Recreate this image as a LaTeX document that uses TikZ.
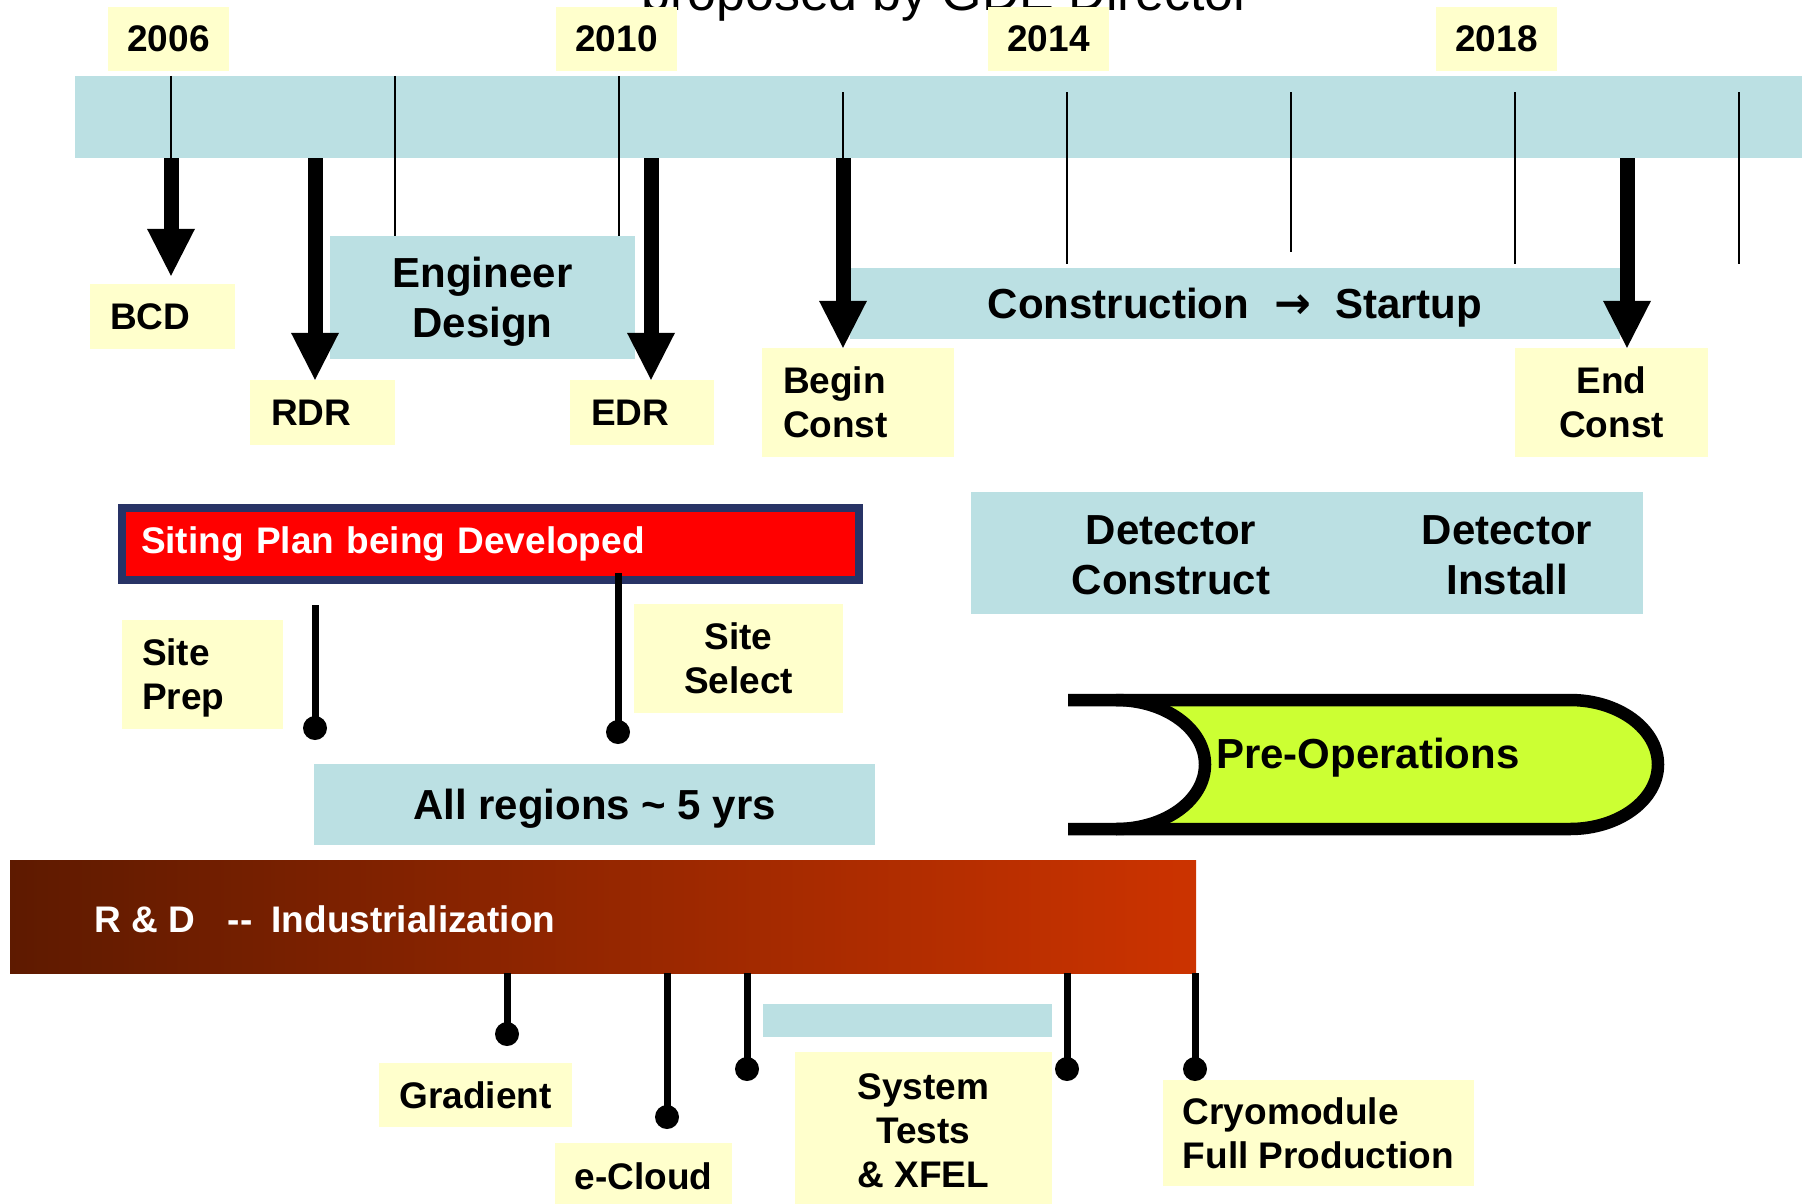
\documentclass[tikz,border=0pt]{standalone}
\usepackage{fontspec}
\setmainfont{Liberation Sans}
\newfontfamily\arrowfont{DejaVu Sans}
\usetikzlibrary{arrows.meta}
\definecolor{lblue}{HTML}{BBE0E3}
\definecolor{lyel}{HTML}{FFFFCC}
\definecolor{navyb}{HTML}{283366}
\definecolor{pgreen}{HTML}{CCFF33}
\definecolor{rdleft}{HTML}{5E1A00}
\definecolor{rdright}{HTML}{CC3300}
\newcommand\fLab{\fontsize{37}{44}\selectfont\bfseries}
\newcommand\fBig{\fontsize{42}{50}\selectfont\bfseries}
\newcommand\nodesc[1]{\raisebox{0pt}[\height][0pt]{#1}}
\begin{document}
\begin{tikzpicture}[x=1pt,y=-1pt,
  ybox/.style={fill=lyel, inner sep=0pt, font=\fLab},
  bbox/.style={fill=lblue, inner sep=0pt, font=\fBig},
  tickline/.style={line width=2pt},
  bigarrow/.style={line width=15pt, -{Triangle[length=47pt,width=48pt,line width=0pt]}},
  stem/.style={line width=7pt},
  dot/.style={circle, fill=black, inner sep=0pt, minimum size=24pt},
  plain/.style={inner sep=0pt}]
\useasboundingbox (0,0) rectangle (1802,1203);

% title (cut at top)
\node[plain, font={\fontsize{52}{60}\selectfont}, anchor=base] (title) at (946,10) {proposed by GDE Director};

% timeline bar
\node[bbox, minimum width=1735pt, minimum height=82pt] (bar) at (942.5,117) {};

% years
\node[ybox, minimum width=121pt, minimum height=64pt] (y2006) at (168.5,39) {2006};
\node[ybox, minimum width=121pt, minimum height=64pt] (y2010) at (616.5,39) {2010};
\node[ybox, minimum width=121pt, minimum height=64pt] (y2014) at (1048.5,39) {2014};
\node[ybox, minimum width=121pt, minimum height=64pt] (y2018) at (1496.5,39) {2018};

% upper boxes
\node[bbox, minimum width=305pt, minimum height=123pt, align=center] (eng) at (482.5,297.5) {Engineer\\\nodesc{Design}};
\node[bbox, minimum width=770pt, minimum height=71pt] (cons) at (1235,303.5) {\nodesc{Construction\hspace{25pt}{\arrowfont\fontsize{44}{50}\selectfont →}\hspace{24pt}Startup}};

\node[ybox, minimum width=145pt, minimum height=65pt, inner xsep=20pt, text width=105pt, align=left] (bcd) at (162.5,316.5) {BCD};
\node[ybox, minimum width=145pt, minimum height=65pt, inner xsep=21pt, text width=103pt, align=left] (rdr) at (322.5,412.5) {RDR};
\node[ybox, minimum width=144pt, minimum height=65pt, inner xsep=21pt, text width=102pt, align=left] (edr) at (642,412.5) {EDR};
\node[ybox, minimum width=192pt, minimum height=109pt, inner xsep=21pt, text width=150pt, align=left] (beg) at (858,402.5) {Begin\\Const};
\node[ybox, minimum width=193pt, minimum height=109pt, align=center] (endc) at (1611.5,402.5) {End\\Const};

% ticks
\foreach \n/\x in {1/171,2/395,3/619,4/843,5/1067,6/1291,7/1515,8/1739} \coordinate (t\n) at (\x,0);
\coordinate (hi) at (0,92);
\coordinate (lo) at (0,264);
\coordinate (lo2) at (0,252);
\draw[tickline] (t1 |- bar.north) -- (t1 |- bar.south);
\draw[tickline] (t2 |- bar.north) -- (t2 |- eng.north);
\draw[tickline] (t3 |- bar.north) -- (t3 |- eng.north);
\draw[tickline] (t4 |- hi) -- (t4 |- bar.south);
\draw[tickline] (t5 |- hi) -- (t5 |- lo);
\draw[tickline] (t6 |- hi) -- (t6 |- lo2);
\draw[tickline] (t7 |- hi) -- (t7 |- lo);
\draw[tickline] (t8 |- hi) -- (t8 |- lo);

% milestone arrows
\coordinate (xr) at (315,0);
\coordinate (xe) at (651,0);
\coordinate (xend) at (1627,0);
\draw[bigarrow, shorten >=8pt] (t1 |- bar.south) -- (t1 |- bcd.north);
\draw[bigarrow] (xr |- bar.south) -- (xr |- rdr.north);
\draw[bigarrow] (xe |- bar.south) -- (xe |- edr.north);
\draw[bigarrow] (t4 |- bar.south) -- (t4 |- beg.north);
\draw[bigarrow] (xend |- bar.south) -- (xend |- endc.north);

% siting
\node[draw=navyb, line width=8pt, fill=red, minimum width=737pt, minimum height=72pt, inner xsep=19pt, inner ysep=0pt, text width=699pt, align=left, font=\fLab, text=white] (siting) at (490.5,544) {Siting Plan being Developed};

% detector
\node[bbox, minimum width=672pt, minimum height=122pt] (det) at (1307,553) {};
\node[plain, font=\fBig, align=center] (detc) at (1171,555) {Detector\\Construct};
\node[plain, font=\fBig, align=center] (deti) at (1507,555) {Detector\\Install};

% site boxes
\node[ybox, minimum width=161pt, minimum height=109pt, inner xsep=20pt, text width=121pt, align=left] (sprep) at (202.5,674.5) {Site\\\nodesc{Prep}};
\node[ybox, minimum width=209pt, minimum height=109pt, align=center] (ssel) at (738.5,658.5) {Site\\Select};

\coordinate (sptop) at (315,605);
\node[dot] (dsp) at (315,728) {};
\draw[stem] (sptop) -- (dsp.center);
\coordinate (sstop) at (618,573);
\node[dot] (dss) at (618,732) {};
\draw[stem] (sstop) -- (dss.center);

% all regions
\node[bbox, minimum width=561pt, minimum height=81pt] (allr) at (594.5,804.5) {\nodesc{All regions \textasciitilde{} 5 yrs}};

% pre-operations
\fill[pgreen] (1116,700) -- (1570,700) .. controls (1618.6,700) and (1658,728.9) .. (1658,764.5) .. controls (1658,800.1) and (1618.6,829) .. (1570,829) -- (1116,829) .. controls (1165.2,829) and (1205,800.1) .. (1205,764.5) .. controls (1205,728.9) and (1165.2,700) .. (1116,700) -- cycle;
\draw[line width=12.5pt] (1068,700) -- (1570,700) .. controls (1618.6,700) and (1658,728.9) .. (1658,764.5) .. controls (1658,800.1) and (1618.6,829) .. (1570,829) -- (1068,829);
\draw[line width=12.5pt] (1116,700) .. controls (1165.2,700) and (1205,728.9) .. (1205,764.5) .. controls (1205,800.1) and (1165.2,829) .. (1116,829);
\node[plain, font=\fBig, anchor=west] (preop) at (1216,753) {\nodesc{Pre-Operations}};

% R&D bar
\node[inner sep=0pt, minimum width=1186pt, minimum height=113pt, left color=rdleft, right color=rdright] (rd) at (603,916.5) {};
\node[plain, font=\fLab, text=white, anchor=west] (rdt) at (94,919.5) {R \& D\hspace{33pt}-{}-\hspace{19pt}Industrialization};

% small bar
\node[bbox, minimum width=289pt, minimum height=33pt] (sbar) at (907.5,1020.5) {};

% bottom labels
\node[ybox, minimum width=193pt, minimum height=64pt] (grad) at (475.5,1095) {Gradient};
\node[ybox, minimum width=177pt, minimum height=67pt] (ecl) at (643.5,1176.5) {e-Cloud};
\node[ybox, minimum width=257pt, minimum height=158pt, align=center] (syst) at (923.5,1131) {System\\Tests\\\& XFEL};
\node[ybox, minimum width=311pt, minimum height=106pt, align=left] (cryo) at (1318.5,1133) {Cryomodule\\Full Production};

% bottom lollipops
\foreach \n/\x/\y in {g/507/1034, e/667/1117, a/747/1069, b/1067/1069, c/1195/1069} {
  \node[dot] (d\n) at (\x,\y) {};
  \draw[stem] (d\n |- rd.south) -- (d\n.center);
}
\end{tikzpicture}
\end{document}
